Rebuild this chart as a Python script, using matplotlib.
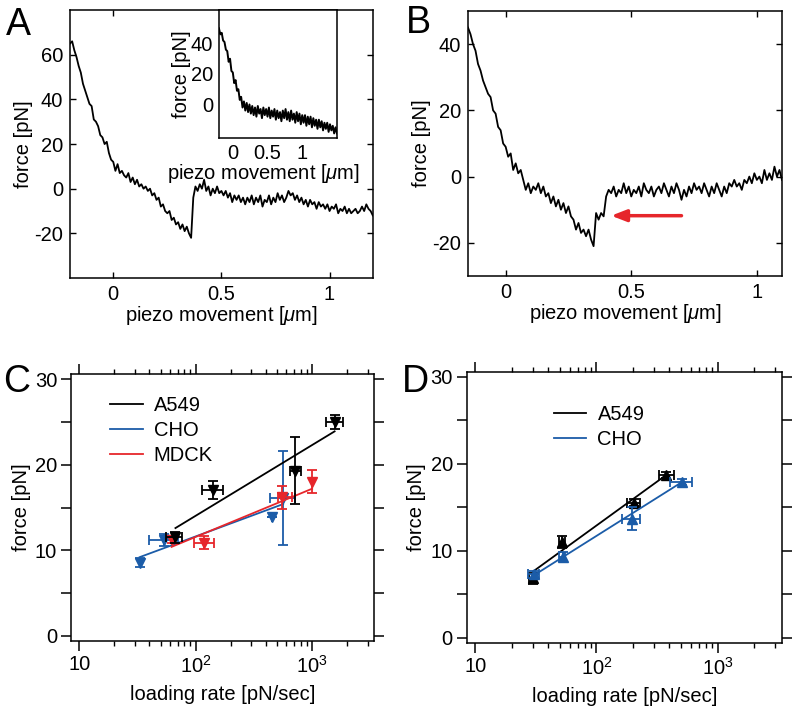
import numpy as np
import matplotlib
matplotlib.use("Agg")
import matplotlib.pyplot as plt
from matplotlib.ticker import FixedLocator, NullFormatter

plt.rcParams['font.family'] = ['Liberation Sans', 'DejaVu Sans']
plt.rcParams['mathtext.fontset'] = 'custom'
plt.rcParams['mathtext.rm'] = 'Liberation Sans'
plt.rcParams['mathtext.it'] = 'Liberation Sans:italic'
plt.rcParams['mathtext.default'] = 'regular'
plt.rcParams['axes.unicode_minus'] = False

# ---- panel A: force trace (piezo -0.2 .. 1.2 um)
a_force = [65, 66, 62, 59, 55, 52, 47, 44, 41, 38, 37, 31, 30, 28, 24, 23, 20, 21, 16, 13,
           12, 8, 11, 7, 8, 6, 5, 7, 3, 5, 2, 4, 1, 2, 0, 1, -1, 0, -3, -2,
           -5, -4, -8, -7, -10, -11, -10, -14, -13, -16, -15, -18, -16, -19, -17, -20, -22, -4, 1, -1,
           2, 0, 4, -1, 1, -3, 0, -2, 1, -2, -1, -3, -1, -4, -2, -6, -3, -5, -3, -6,
           -4, -7, -4, -6, -3, -7, -4, -6, -3, -8, -5, -6, -3, -7, -4, -6, -2, -5, -3, -6,
           -4, -1, -3, -2, -5, -3, -6, -4, -7, -5, -8, -5, -7, -6, -9, -6, -8, -7, -9, -7,
           -10, -8, -9, -7, -11, -9, -10, -8, -11, -9, -11, -10, -9, -11, -10, -8, -10, -7, -9, -10, -12]
a_range = (-0.2, 1.2)

# inset trace (piezo -0.2 .. 1.5 um)
inset_force = [50, 46, 47, 42, 41, 36, 35, 28, 30, 22, 21, 14, 16, 9, 10, 3, 5, -2, 2, -4,
               1, -5, 0, -6, -1, -7, -2, -8, -1, -6, -3, -9, -2, -7, -3, -8, -2, -9, -4, -8,
               -3, -10, -4, -9, -5, -11, -4, -9, -3, -10, -5, -11, -4, -10, -6, -12, -5, -11, -6, -13,
               -7, -12, -7, -14, -8, -13, -8, -15, -9, -14, -10, -16, -10, -15, -11, -17, -12, -16, -12, -18,
               -13, -17, -14, -19, -15, -19]
inset_range = (-0.2, 1.5)

# ---- panel B: force trace (piezo -0.15 .. 1.1 um)
b_force = [45, 43, 40, 38, 34, 32, 29, 27, 25, 24, 20, 19, 15, 14, 10, 9, 6, 7, 2, 4,
           1, 2, -1, -4, -2, -5, -3, -4, -2, -5, -3, -6, -5, -8, -6, -9, -7, -10, -8, -11,
           -9, -12, -13, -16, -14, -17, -16, -18, -16, -19, -21, -11, -13, -11, -12, -6, -4, -5, -3, -6,
           -4, -5, -2, -5, -3, -6, -4, -5, -3, -6, -2, -4, -5, -3, -6, -4, -3, -5, -2, -4,
           -6, -3, -5, -2, -4, -7, -4, -6, -3, -5, -2, -4, -3, -5, -2, -4, -6, -3, -5, -2,
           -4, -6, -3, -5, -2, -3, -1, -3, -2, -4, -1, -2, 0, -2, 1, -1, 0, -2, 2, -1,
           1, -1, 3, 0, 2, -1]
b_range = (-0.15, 1.1)
arrow_tail = (0.70, -11.8)
arrow_head = (0.42, -11.8)

# ---- panel C: rupture force vs loading rate
c_a549_rate = [67, 142, 710, 1563]
c_a549_force = [11.5, 17.0, 19.3, 25.0]
c_a549_ferr = [0.6, 1.05, 3.9, 0.85]
c_a549_rerr = [[11, 28, 67, 238], [10, 31, 97, 277]]
c_a549_fit = ([67, 1560], [12.6, 23.9])

c_cho_rate = [33, 53, 448, 563]
c_cho_force = [8.55, 11.2, 13.9, 16.1]
c_cho_ferr = [0.5, 0.7, 0, 5.5]
c_cho_rerr = [[0, 13, 0, 130], [0, 18, 0, 147]]
c_cho_fit = ([33, 563], [9.2, 15.4])

c_mdck_rate = [62, 118, 556, 1000]
c_mdck_force = [11.2, 10.9, 16.2, 18.0]
c_mdck_ferr = [0.4, 0.8, 1.35, 1.35]
c_mdck_rerr = [[0, 22, 46, 0], [0, 26, 120, 0]]
c_mdck_fit = ([62, 1000], [10.4, 17.2])

# ---- panel D
d_a549_rate = [30, 52, 204, 376]
d_a549_force = [6.8, 11.0, 15.5, 18.7]
d_a549_ferr = [0.6, 0.7, 0.4, 0.35]
d_a549_rerr = [[2, 3, 24, 49], [2, 3, 27, 58]]
d_a549_fit = ([30, 376], [7.6, 18.7])

d_cho_rate = [30.4, 52.5, 198, 509]
d_cho_force = [7.26, 9.3, 13.7, 17.9]
d_cho_ferr = [0.4, 0.5, 1.35, 0.3]
d_cho_rerr = [[3, 3, 34, 106], [3, 3, 33, 106]]
d_cho_fit = ([30, 509], [7.1, 17.9])

blue = '#1b5ca8'
red = '#e6262b'
xl_um = r'piezo movement [$\mathit{\mu}$m]'
FS = 14.5

fig = plt.figure(figsize=(7.99, 7.08), dpi=100)


def trace_axes(ax):
    ax.tick_params(direction='in', length=4, width=1, top=True, right=True,
                   labelsize=FS, pad=5)
    for s in ax.spines.values():
        s.set_linewidth(1.1)


# A
axA = fig.add_axes([0.0876, 0.6073, 0.379, 0.3785])
axA.plot(np.linspace(*a_range, len(a_force)), a_force, color='black', lw=1.3)
axA.set_xlim(*a_range)
axA.set_ylim(-40, 80)
axA.set_xticks([0, 0.5, 1])
axA.set_xticklabels(['0', '0.5', '1'])
axA.set_yticks([-20, 0, 20, 40, 60])
trace_axes(axA)
axA.set_xlabel(xl_um, fontsize=FS, labelpad=0)
axA.set_ylabel('force [pN]', fontsize=FS, labelpad=1)

axI = fig.add_axes([0.274, 0.8051, 0.1477, 0.1808])
axI.plot(np.linspace(*inset_range, len(inset_force)), inset_force, color='black', lw=1.4)
axI.set_xlim(*inset_range)
axI.set_ylim(-22, 62)
axI.set_xticks([0, 0.5, 1])
axI.set_xticklabels(['0', '0.5', '1'])
axI.set_yticks([0, 20, 40])
axI.tick_params(direction='in', length=0, labelsize=FS, pad=4)
for s in axI.spines.values():
    s.set_linewidth(1.1)
axI.set_xlabel(xl_um, fontsize=FS, labelpad=0)
axI.xaxis.set_label_coords(0.38, -0.19)
axI.set_ylabel('force [pN]', fontsize=FS, labelpad=0)

# B
axB = fig.add_axes([0.5857, 0.6102, 0.393, 0.3743])
axB.plot(np.linspace(*b_range, len(b_force)), b_force, color='black', lw=1.3)
axB.set_xlim(*b_range)
axB.set_ylim(-30, 50)
axB.set_xticks([0, 0.5, 1])
axB.set_xticklabels(['0', '0.5', '1'])
axB.set_yticks([-20, 0, 20, 40])
trace_axes(axB)
axB.set_xlabel(xl_um, fontsize=FS, labelpad=0)
axB.set_ylabel('force [pN]', fontsize=FS, labelpad=1)
axB.annotate('', xy=arrow_head, xytext=arrow_tail,
             arrowprops=dict(arrowstyle='-|>,head_length=0.9,head_width=0.35',
                             color=red, lw=2.5, shrinkA=0, shrinkB=0))


def rate_axes(ax):
    ax.set_xscale('log')
    ax.set_xlim(8.5, 3400)
    ax.set_ylim(-0.6, 30.6)
    ax.xaxis.set_major_locator(FixedLocator([10, 100, 1000]))
    ax.set_xticklabels(['10', r'$10^2$', r'$10^3$'])
    minors = [m * d for d in (10, 100, 1000) for m in range(2, 10) if m * d < 3400]
    ax.xaxis.set_minor_locator(FixedLocator(minors))
    ax.xaxis.set_minor_formatter(NullFormatter())
    ax.set_yticks([0, 5, 10, 15, 20, 25, 30])
    ax.set_yticklabels(['0', '', '10', '', '20', '', '30'])
    ax.tick_params(which='major', direction='out', length=7, width=1.1,
                   top=True, right=True, labelsize=FS, pad=3)
    ax.tick_params(which='minor', direction='out', length=3.5, width=1,
                   top=True, right=True)
    for s in ax.spines.values():
        s.set_linewidth(1.1)
    ax.set_xlabel('loading rate [pN/sec]', fontsize=FS, labelpad=6)
    ax.set_ylabel('force [pN]', fontsize=FS, labelpad=3)


def series(ax, rate, force, ferr, rerr, fit, color, marker, ms, z, label):
    ln, = ax.plot(fit[0], fit[1], color=color, lw=1.3, zorder=z, label=label)
    ax.errorbar(rate, force, yerr=ferr, xerr=rerr, fmt=marker, color=color,
                ms=ms, capsize=3.5, elinewidth=1.3, capthick=1.3, zorder=z)
    return ln


# C
axC = fig.add_axes([0.0889, 0.0946, 0.3792, 0.3771])
h_cho = series(axC, c_cho_rate, c_cho_force, c_cho_ferr, c_cho_rerr, c_cho_fit, blue, 'v', 7, 2, 'CHO')
h_mdck = series(axC, c_mdck_rate, c_mdck_force, c_mdck_ferr, c_mdck_rerr, c_mdck_fit, red, 'v', 7, 3, 'MDCK')
h_a549 = series(axC, c_a549_rate, c_a549_force, c_a549_ferr, c_a549_rerr, c_a549_fit, 'black', 'v', 7, 4, 'A549')
rate_axes(axC)
axC.legend(handles=[h_a549, h_cho, h_mdck], loc='upper left', bbox_to_anchor=(0.07, 0.985),
           frameon=False, fontsize=FS, handlelength=1.6, handletextpad=0.55, labelspacing=0.3)

# D
axD = fig.add_axes([0.5841, 0.0922, 0.3946, 0.3828])
h_da = series(axD, d_a549_rate, d_a549_force, d_a549_ferr, d_a549_rerr, d_a549_fit, 'black', '^', 6.5, 2, 'A549')
h_dc = series(axD, d_cho_rate, d_cho_force, d_cho_ferr, d_cho_rerr, d_cho_fit, blue, '^', 6.5, 3, 'CHO')
rate_axes(axD)
axD.legend(handles=[h_da, h_dc], loc='upper left', bbox_to_anchor=(0.22, 0.945),
           frameon=False, fontsize=FS, handlelength=1.6, handletextpad=0.55, labelspacing=0.3)

# panel letters
for lab, x, y in [('A', 0.007, 0.951), ('B', 0.508, 0.953), ('C', 0.004, 0.446), ('D', 0.503, 0.446)]:
    fig.text(x, y, lab, fontsize=27)

fig.savefig('out.png', dpi=100)
